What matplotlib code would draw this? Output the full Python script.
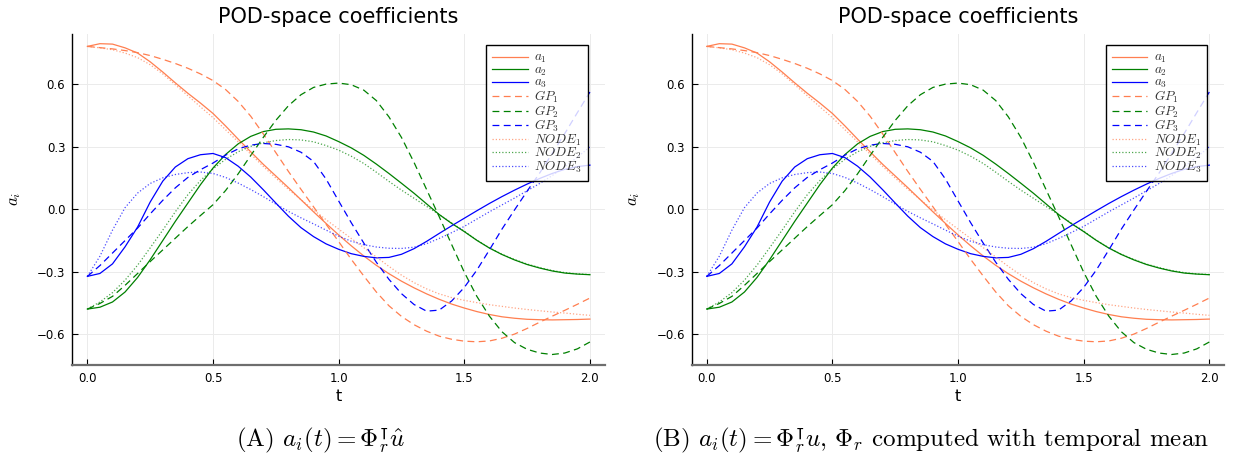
import numpy as np
import matplotlib
matplotlib.use("Agg")
import matplotlib.pyplot as plt

plt.rcParams['mathtext.fontset'] = 'cm'
plt.rcParams['font.family'] = ['DejaVu Sans']

# time grid
t = np.round(np.arange(0, 2.0001, 0.05), 2)

a1 = [0.782, 0.795, 0.793, 0.775, 0.750, 0.708, 0.659, 0.607, 0.557, 0.510,
      0.460, 0.400, 0.337, 0.276, 0.216, 0.160, 0.104, 0.046, -0.012, -0.068,
      -0.123, -0.175, -0.224, -0.269, -0.309, -0.345, -0.377, -0.406, -0.432, -0.455,
      -0.474, -0.491, -0.505, -0.516, -0.523, -0.528, -0.530, -0.531, -0.530, -0.529, -0.527]
a2 = [-0.479, -0.470, -0.445, -0.397, -0.327, -0.242, -0.150, -0.058, 0.030, 0.118,
      0.198, 0.263, 0.314, 0.350, 0.373, 0.384, 0.386, 0.382, 0.371, 0.352,
      0.325, 0.295, 0.259, 0.217, 0.172, 0.125, 0.077, 0.026, -0.025, -0.068,
      -0.107, -0.149, -0.186, -0.217, -0.243, -0.265, -0.282, -0.296, -0.306, -0.311, -0.314]
a3 = [-0.322, -0.308, -0.262, -0.180, -0.085, 0.035, 0.135, 0.203, 0.243, 0.262,
      0.268, 0.248, 0.207, 0.155, 0.094, 0.030, -0.033, -0.088, -0.131, -0.166,
      -0.192, -0.213, -0.226, -0.233, -0.231, -0.216, -0.189, -0.154, -0.116, -0.079,
      -0.043, -0.007, 0.028, 0.061, 0.092, 0.121, 0.148, 0.172, 0.192, 0.205, 0.212]
gp1 = [0.782, 0.776, 0.770, 0.762, 0.752, 0.738, 0.720, 0.700, 0.677, 0.650,
       0.618, 0.575, 0.518, 0.447, 0.362, 0.272, 0.182, 0.096, 0.012, -0.072,
       -0.155, -0.240, -0.320, -0.397, -0.463, -0.514, -0.554, -0.585, -0.609, -0.624,
       -0.633, -0.636, -0.632, -0.619, -0.599, -0.572, -0.542, -0.513, -0.485, -0.456, -0.426]
gp2 = [-0.479, -0.452, -0.418, -0.365, -0.308, -0.251, -0.195, -0.139, -0.083, -0.030,
       0.022, 0.090, 0.170, 0.258, 0.345, 0.427, 0.497, 0.550, 0.585, 0.601,
       0.606, 0.598, 0.572, 0.522, 0.444, 0.345, 0.225, 0.095, -0.035, -0.170,
       -0.302, -0.418, -0.513, -0.588, -0.640, -0.672, -0.690, -0.697, -0.690, -0.670, -0.637]
gp3 = [-0.322, -0.270, -0.210, -0.150, -0.090, -0.022, 0.043, 0.103, 0.153, 0.190,
       0.222, 0.260, 0.290, 0.308, 0.316, 0.312, 0.300, 0.274, 0.230, 0.145,
       0.040, -0.064, -0.162, -0.254, -0.336, -0.405, -0.457, -0.489, -0.484, -0.440,
       -0.375, -0.292, -0.195, -0.095, -0.003, 0.087, 0.174, 0.268, 0.364, 0.464, 0.563]
node1 = [0.782, 0.775, 0.766, 0.750, 0.728, 0.694, 0.650, 0.598, 0.545, 0.492,
         0.440, 0.382, 0.324, 0.265, 0.206, 0.150, 0.096, 0.046, -0.003, -0.050,
         -0.095, -0.140, -0.184, -0.229, -0.274, -0.316, -0.352, -0.382, -0.406, -0.424,
         -0.437, -0.448, -0.458, -0.466, -0.474, -0.481, -0.487, -0.493, -0.498, -0.504, -0.509]
node2 = [-0.479, -0.445, -0.400, -0.340, -0.268, -0.185, -0.100, -0.012, 0.070, 0.138,
         0.194, 0.240, 0.276, 0.302, 0.319, 0.330, 0.335, 0.333, 0.324, 0.306,
         0.284, 0.255, 0.220, 0.178, 0.134, 0.092, 0.053, 0.014, -0.025, -0.066,
         -0.105, -0.148, -0.185, -0.216, -0.241, -0.263, -0.280, -0.294, -0.304, -0.310, -0.313]
node3 = [-0.322, -0.225, -0.100, 0.008, 0.078, 0.124, 0.151, 0.167, 0.176, 0.179,
         0.172, 0.153, 0.126, 0.095, 0.061, 0.025, -0.010, -0.041, -0.070, -0.100,
         -0.129, -0.153, -0.170, -0.181, -0.187, -0.188, -0.182, -0.165, -0.140, -0.112,
         -0.082, -0.047, -0.012, 0.021, 0.054, 0.089, 0.124, 0.162, 0.204, 0.250, 0.300]

labels = [r'$a_1$', r'$a_2$', r'$a_3$', r'$GP_1$', r'$GP_2$', r'$GP_3$',
          r'$NODE_1$', r'$NODE_2$', r'$NODE_3$']
series = [a1, a2, a3, gp1, gp2, gp3, node1, node2, node3]
colors = ['#FF7F50', '#008000', '#0000FF'] * 3
kinds = ['solid'] * 3 + ['dash'] * 3 + ['dot'] * 3

xticks = [0.0, 0.5, 1.0, 1.5, 2.0]
yticks = [-0.6, -0.3, 0.0, 0.3, 0.6]
title = 'POD-space coefficients'
captions = [r'(A) $a_i(t) = \Phi_r^{\intercal}\hat{u}$',
            r'(B) $a_i(t) = \Phi_r^{\intercal}u$, $\Phi_r$ computed with temporal mean']

fig = plt.figure(figsize=(12.33, 4.59), dpi=100)
W, H = 1233, 459
lefts = [72.3, 691.7]
axw = 532.7
top_px, bot_px = 34.0, 364.7

for k, lx in enumerate(lefts):
    ax = fig.add_axes([lx / W, 1 - bot_px / H, axw / W, (bot_px - top_px) / H])
    for y, lab, c, kind in zip(series, labels, colors, kinds):
        if kind == 'solid':
            ax.plot(t, y, color=c, lw=0.9, label=lab)
        elif kind == 'dash':
            ax.plot(t, y, color=c, lw=0.9, dashes=(5.5, 3.5), label=lab)
        else:
            ax.plot(t, y, color=c, lw=0.9, dashes=(1.0, 1.6), alpha=0.7, label=lab)
    ax.set_xlim(-0.06, 2.06)
    ax.set_ylim(-0.746, 0.8415)
    ax.set_xticks(xticks)
    ax.set_yticks(yticks)
    ax.set_xticklabels([f'{v:.1f}' for v in xticks])
    ax.set_yticklabels([f'{v:.1f}'.replace('-', '\u2212') for v in yticks])
    ax.tick_params(direction='in', length=4, width=0.8, labelsize=8.5, color='black', pad=5)
    ax.grid(True, color='#ebebeb', lw=0.7)
    ax.set_axisbelow(True)
    for s in ['top', 'right']:
        ax.spines[s].set_visible(False)
    ax.spines['left'].set_color('black')
    ax.spines['left'].set_linewidth(1.0)
    ax.spines['bottom'].set_color('#6e6e6e')
    ax.spines['bottom'].set_linewidth(1.6)
    ax.set_title(title, fontsize=15, pad=8)
    ax.set_xlabel('t', fontsize=11.5, labelpad=3)
    ax.set_ylabel(r'$a_i$', fontsize=12, labelpad=10)
    leg = ax.legend(loc='upper right', bbox_to_anchor=(0.968, 0.966), fontsize=9.5,
                    handlelength=2.7, handletextpad=0.5, labelspacing=-0.13,
                    borderpad=0.45, borderaxespad=0.0, fancybox=False)
    fr = leg.get_frame()
    fr.set_alpha(None)
    fr.set_facecolor((1, 1, 1, 0.82))
    fr.set_edgecolor('black')
    fr.set_linewidth(1.0)
    for txt in leg.get_texts():
        txt.set_color('#333333')

fig.text(320 / W, 1 - 440 / H, captions[0], ha='center', va='center',
         fontsize=18, family='cmr10')
fig.text(931 / W, 1 - 440 / H, captions[1], ha='center', va='center',
         fontsize=18, family='cmr10')

fig.savefig('out.png', dpi=100)
